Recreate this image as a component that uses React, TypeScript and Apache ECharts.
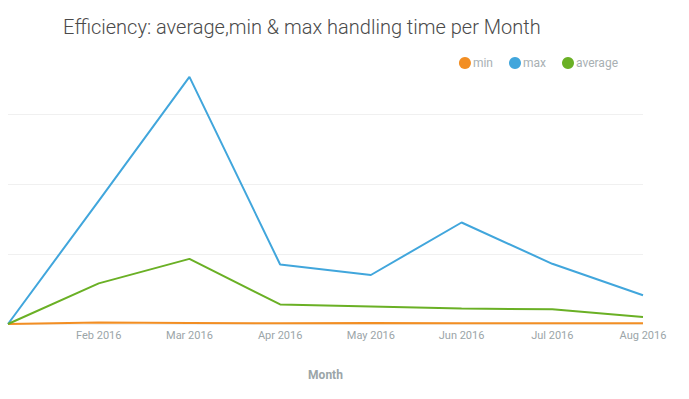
import React, { useEffect, useRef } from "react";
import * as echarts from "echarts";

const months = ["Jan 2016", "Feb 2016", "Mar 2016", "Apr 2016", "May 2016", "Jun 2016", "Jul 2016", "Aug 2016"];
const minValues = [0, 2, 1.5, 1, 1.5, 1, 1, 1];
const maxValues = [0, 176, 353, 85, 70, 145, 86, 41];
const avgValues = [0, 58, 93, 28, 25, 22, 21, 10];

export default function App() {
  const ref = useRef<HTMLDivElement>(null);
  useEffect(() => {
    if (!ref.current) return;
    const chart = echarts.init(ref.current, undefined, { renderer: "svg" });
    chart.setOption({
      animation: false,
      backgroundColor: "#ffffff",
      title: {
        text: "Efficiency: average,min & max handling time per Month",
        left: 58,
        top: 12,
        textStyle: { fontFamily: "Roboto", fontWeight: 300, fontSize: 20, color: "#4a4a4a" },
      },
      legend: {
        data: ["min", "max", "average"],
        icon: "circle",
        itemWidth: 12,
        itemHeight: 12,
        itemGap: 16,
        right: 66,
        top: 52,
        textStyle: { fontFamily: "Roboto", fontSize: 12, color: "#a8b0b3", padding: [0, 0, 0, -3] },
      },
      grid: { left: 8, right: 46, top: 44, bottom: 75, containLabel: false },
      xAxis: {
        type: "category",
        data: months,
        boundaryGap: false,
        name: "Month",
        nameLocation: "middle",
        nameGap: 45,
        nameTextStyle: { fontFamily: "Roboto", fontWeight: "bold", fontSize: 12, color: "#9ba5a8" },
        axisLine: { show: false },
        axisTick: { show: false },
        axisLabel: {
          interval: (i: number) => i > 0,
          margin: 6,
          fontFamily: "Roboto",
          fontSize: 11,
          color: "#9ba5a8",
        },
      },
      yAxis: {
        type: "value",
        min: 0,
        max: 400,
        interval: 100,
        axisLabel: { show: false },
        axisLine: { show: false },
        axisTick: { show: false },
        splitLine: { show: true, showMaxLine: false, lineStyle: { color: "#f0f0f0", width: 1 } },
      },
      series: [
        { name: "min", type: "line", data: minValues, showSymbol: false, symbol: "circle", color: "#f28e23", lineStyle: { width: 2 } },
        { name: "max", type: "line", data: maxValues, showSymbol: false, symbol: "circle", color: "#41a6dc", lineStyle: { width: 2 } },
        { name: "average", type: "line", data: avgValues, showSymbol: false, symbol: "circle", color: "#6ab025", lineStyle: { width: 2 } },
      ],
    });
    return () => chart.dispose();
  }, []);
  return <div ref={ref} style={{ width: 689, height: 399, position: "absolute", left: 0, top: 0 }} />;
}
